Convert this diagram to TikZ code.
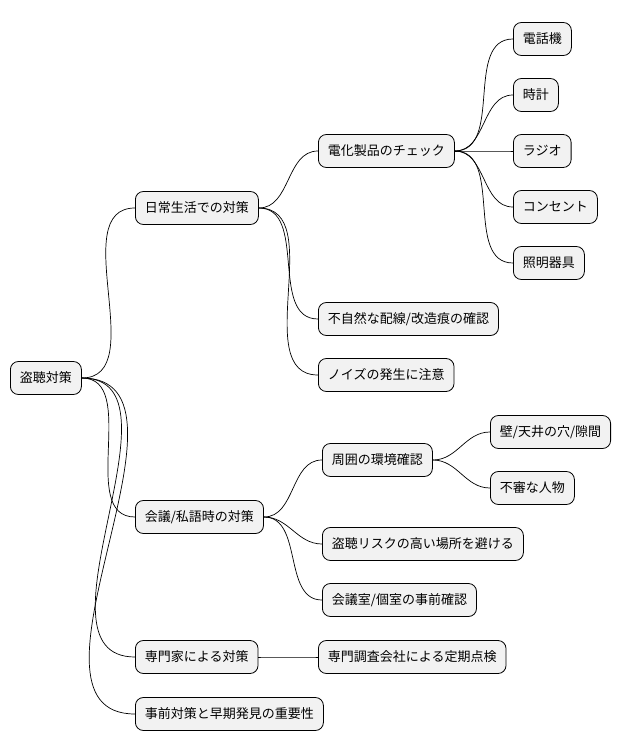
\documentclass[tikz,border=0pt]{standalone}
\usepackage{fontspec}
\newfontfamily\cjk{Noto Sans CJK JP}
\begin{document}
\begin{tikzpicture}[x=1pt,y=-1pt,
  box/.style={draw=black,fill=black!5,rounded corners=8pt,anchor=west,minimum height=33pt,inner xsep=9.5pt,font=\cjk\fontsize{13}{15}\selectfont,line width=0.8pt},
  link/.style={draw=black,line width=0.7pt}]
\useasboundingbox (0,0) rectangle (629,752);
\node[box] (r) at (10,378) {盗聴対策};
\node[box] (a) at (135,208) {日常生活での対策};
\node[box] (a1) at (318,151) {電化製品のチェック};
\node[box] (a11) at (513,39) {電話機};
\node[box] (a12) at (513,95) {時計};
\node[box] (a13) at (513,151) {ラジオ};
\node[box] (a14) at (513,207) {コンセント};
\node[box] (a15) at (513,263) {照明器具};
\node[box] (a2) at (318,319) {不自然な配線/改造痕の確認};
\node[box] (a3) at (318,375) {ノイズの発生に注意};
\node[box] (b) at (135,517) {会議/私語時の対策};
\node[box] (b1) at (322,460) {周囲の環境確認};
\node[box] (b11) at (490,432) {壁/天井の穴/隙間};
\node[box] (b12) at (490,488) {不審な人物};
\node[box] (b2) at (322,544) {盗聴リスクの高い場所を避ける};
\node[box] (b3) at (322,600) {会議室/個室の事前確認};
\node[box] (c) at (135,657) {専門家による対策};
\node[box] (c1) at (318,657) {専門調査会社による定期点検};
\node[box] (d) at (135,714) {事前対策と早期発見の重要性};
\foreach \p/\c in {r/a,r/b,r/c,r/d,a/a1,a/a2,a/a3,a1/a11,a1/a12,a1/a13,a1/a14,a1/a15,b/b1,b/b2,b/b3,b1/b11,b1/b12,c/c1}
  \draw[link] (\p.east) to[out=0,in=180] (\c.west);
\end{tikzpicture}
\end{document}
